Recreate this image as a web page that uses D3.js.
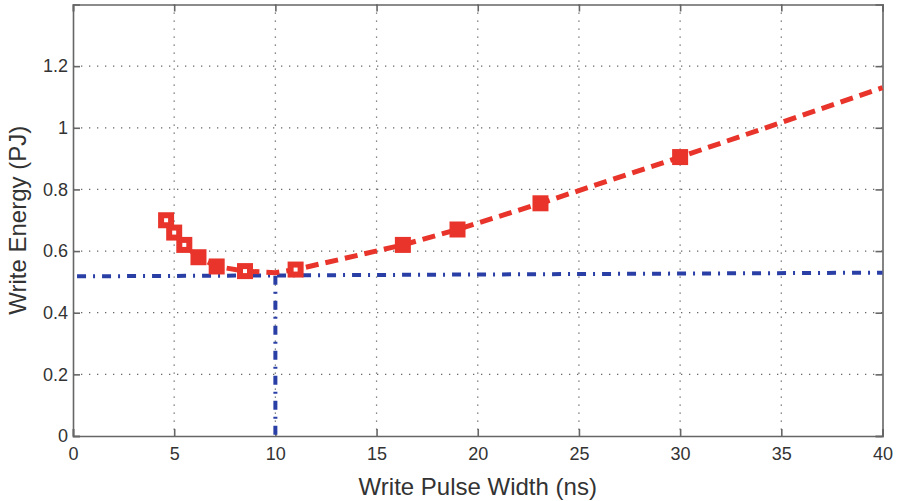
<!DOCTYPE html>
<html>
<head>
<meta charset="utf-8">
<script src="https://cdn.jsdelivr.net/npm/d3@7"></script>
<style>
  body { margin: 0; background: #fff; }
  svg { font-family: "Liberation Sans", Arial, sans-serif; }
</style>
</head>
<body>
<svg id="chart" width="898" height="501"></svg>
<script>
// measured points (write pulse width ns, write energy pJ)
var pulseWidth = [4.6, 5.0, 5.5, 6.2, 7.1, 8.5, 11.0, 16.3, 19.0, 23.1, 30.0];
var energy     = [0.70, 0.66, 0.62, 0.58, 0.55, 0.535, 0.54, 0.62, 0.67, 0.755, 0.905];
var hollow     = [true, true, true, false, false, true, true, false, false, false, false];

// red dashed trend through the points, extended to the right edge
var trendX = [4.6, 5.0, 5.5, 6.2, 7.1, 8.5, 10.0, 11.0, 16.3, 19.0, 23.1, 30.0, 40.0];
var trendY = [0.70, 0.66, 0.62, 0.58, 0.55, 0.535, 0.53, 0.54, 0.62, 0.67, 0.755, 0.905, 1.13];

// blue dash-dot guide lines
var hGuideX = [0.2, 40];
var hGuideY = [0.518, 0.53];
var vGuideX = [10, 10];
var vGuideY = [0.52, 0];

var xTicks = [0, 5, 10, 15, 20, 25, 30, 35, 40];
var yTicks = [0, 0.2, 0.4, 0.6, 0.8, 1, 1.2];

var svg = d3.select("#chart"),
    margin = {top: 4.5, right: 15.5, bottom: 65, left: 73},
    width = +svg.attr("width") - margin.left - margin.right,
    height = +svg.attr("height") - margin.top - margin.bottom;

var x = d3.scaleLinear().domain([0, 40]).range([0, width]),
    y = d3.scaleLinear().domain([0, 1.4]).range([height, 0]);

var g = svg.append("g")
    .attr("transform", "translate(" + margin.left + "," + margin.top + ")");

// dotted grid
g.selectAll(".gx").data(xTicks.slice(1, -1)).enter().append("line")
    .attr("x1", function(d) { return x(d); })
    .attr("x2", function(d) { return x(d); })
    .attr("y1", 0).attr("y2", height)
    .attr("stroke", "#666").attr("stroke-width", 1.3)
    .attr("stroke-dasharray", "1.3,6.7");

g.selectAll(".gy").data(yTicks.slice(1)).enter().append("line")
    .attr("y1", function(d) { return y(d); })
    .attr("y2", function(d) { return y(d); })
    .attr("x1", 0).attr("x2", width)
    .attr("stroke", "#666").attr("stroke-width", 1.3)
    .attr("stroke-dasharray", "1.3,6.7");

// axes (MATLAB style: ticks inside, box all round)
var tickLen = 7;
var xAxis = g.append("g")
    .attr("transform", "translate(0," + height + ")")
    .call(d3.axisBottom(x).tickValues(xTicks).tickSize(-tickLen).tickPadding(tickLen + 4).tickFormat(d3.format("d")));

var yAxis = g.append("g")
    .call(d3.axisLeft(y).tickValues(yTicks).tickSize(-tickLen).tickPadding(5).tickFormat(function(d) { return d3.format("")(d); }));

g.append("g")
    .call(d3.axisTop(x).tickValues(xTicks).tickSize(-tickLen).tickFormat(""));
g.append("g")
    .attr("transform", "translate(" + width + ",0)")
    .call(d3.axisRight(y).tickValues(yTicks).tickSize(-tickLen).tickFormat(""));

g.selectAll(".domain").attr("stroke", "#666").attr("stroke-width", 1.6);
g.selectAll(".tick line").attr("stroke", "#666").attr("stroke-width", 1.6);
g.selectAll(".tick text").attr("fill", "#333").attr("font-size", "18px")
    .attr("font-family", "Liberation Sans, Arial, sans-serif");

// blue dash-dot guides
var line = d3.line()
    .x(function(d) { return x(d[0]); })
    .y(function(d) { return y(d[1]); });

g.append("path")
    .datum(d3.zip(hGuideX, hGuideY))
    .attr("fill", "none")
    .attr("stroke", "#2a3fa6")
    .attr("stroke-width", 4)
    .attr("stroke-dasharray", "9,7,2,7")
    .attr("d", line);

g.append("path")
    .datum(d3.zip(vGuideX, vGuideY))
    .attr("fill", "none")
    .attr("stroke", "#2a3fa6")
    .attr("stroke-width", 4)
    .attr("stroke-dasharray", "9,7,2,7")
    .attr("d", line);

// red dashed trend
g.append("path")
    .datum(d3.zip(trendX, trendY))
    .attr("fill", "none")
    .attr("stroke", "#e8342a")
    .attr("stroke-width", 5)
    .attr("stroke-dasharray", "13,7")
    .attr("d", line);

// markers
var mk = 16;
g.selectAll(".mk").data(d3.range(pulseWidth.length)).enter().append("rect")
    .attr("x", function(i) { return x(pulseWidth[i]) - mk / 2; })
    .attr("y", function(i) { return y(energy[i]) - mk / 2; })
    .attr("width", mk).attr("height", mk)
    .attr("fill", "#e8342a");

g.selectAll(".mkh").data(d3.range(pulseWidth.length).filter(function(i) { return hollow[i]; })).enter().append("rect")
    .attr("x", function(i) { return x(pulseWidth[i]) - 2; })
    .attr("y", function(i) { return y(energy[i]) - 2; })
    .attr("width", 4).attr("height", 4)
    .attr("fill", "#fff");

// axis titles
svg.append("text")
    .attr("x", margin.left + width / 2)
    .attr("y", 495)
    .attr("text-anchor", "middle")
    .attr("font-size", "24px")
    .attr("fill", "#333")
    .text("Write Pulse Width (ns)");

svg.append("text")
    .attr("transform", "translate(26," + (margin.top + height / 2) + ") rotate(-90)")
    .attr("text-anchor", "middle")
    .attr("font-size", "24px")
    .attr("fill", "#333")
    .text("Write Energy (PJ)");
</script>
</body>
</html>
